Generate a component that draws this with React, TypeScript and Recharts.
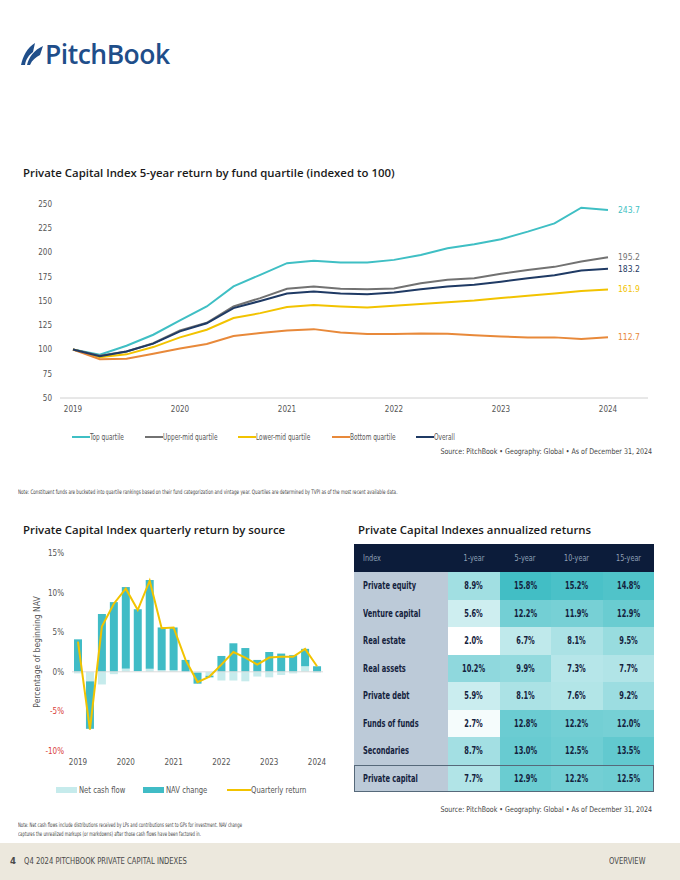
import React from 'react';
import { LineChart, Line, XAxis, YAxis, ComposedChart, Bar, ReferenceLine, LabelList } from 'recharts';

// quarter ends, Q4 2019 .. Q4 2024 (ticks show the Q4 of each year)
const quarters = [
  'Q4 2019', 'Q1 2020', 'Q2 2020', 'Q3 2020', 'Q4 2020', 'Q1 2021', 'Q2 2021', 'Q3 2021', 'Q4 2021',
  'Q1 2022', 'Q2 2022', 'Q3 2022', 'Q4 2022', 'Q1 2023', 'Q2 2023', 'Q3 2023', 'Q4 2023',
  'Q1 2024', 'Q2 2024', 'Q3 2024', 'Q4 2024',
];

// 5-year index by quartile (indexed to 100)
const topQuartile = [100, 94.7, 103.9, 115.2, 130, 144.4, 165, 177, 189, 191.4, 189.6, 189.6, 192.4, 197.5, 204.4, 208.5, 213.7, 221.5, 230, 246.2, 243.7];
const upperMidQuartile = [100, 93.5, 98, 106.5, 119.7, 127.5, 144.4, 153, 162.6, 165, 162.6, 162, 163, 168.4, 171.8, 173.5, 178, 182, 185.2, 190.7, 195.2];
const lowerMidQuartile = [100, 92, 95, 102.5, 112.5, 120.4, 132.4, 137.5, 143.7, 146, 144.4, 143.3, 145, 147, 148.8, 150.5, 153, 155.4, 157.8, 160.2, 161.9];
const bottomQuartile = [100, 90, 90.5, 95.6, 101, 105.6, 114, 117, 119.7, 121, 117.6, 115.9, 116, 116.6, 116.3, 114.6, 113.5, 112.5, 112.5, 110.8, 112.7];
const overall = [100, 93, 98, 106, 118.7, 127, 142.7, 150, 157.8, 159.8, 157.8, 157, 158.8, 162, 165, 166.7, 169.8, 173.5, 176.6, 181.4, 183.2];
const indexTicks = [50, 75, 100, 125, 150, 175, 200, 225, 250];

// quarterly return by source (% of beginning NAV)
const netCashFlow = [-0.2, -1.2, -1.6, -0.3, 0.4, 0.1, 0.4, 0.2, 0.2, 0.0, -0.1, -0.5, -1.1, -1.1, -1.2, -0.6, -0.7, -0.4, -0.2, 0.7, -0.1];
const navChange = [4.1, -6.0, 7.3, 8.8, 10.3, 7.8, 11.2, 5.4, 5.4, 1.5, -1.4, -0.2, 2.0, 3.6, 3.0, 1.5, 2.5, 2.3, 2.1, 2.2, 0.7];
const quarterlyReturn = [3.8, -7.3, 5.7, 8.6, 10.5, 7.8, 11.5, 5.5, 5.6, 1.5, -1.3, -0.6, 0.9, 2.5, 1.8, 0.9, 1.8, 1.9, 1.9, 2.9, 0.7];
const pctTicks = [-10, -5, 0, 5, 10, 15];

// annualized returns table
const indexNames = ['Private equity', 'Venture capital', 'Real estate', 'Real assets', 'Private debt', 'Funds of funds', 'Secondaries', 'Private capital'];
const horizons = ['1-year', '5-year', '10-year', '15-year'];
const oneYear = [8.9, 5.6, 2.0, 10.2, 5.9, 2.7, 8.7, 7.7];
const fiveYear = [15.8, 12.2, 6.7, 9.9, 8.1, 12.8, 13.0, 12.9];
const tenYear = [15.2, 11.9, 8.1, 7.3, 7.6, 12.2, 12.5, 12.2];
const fifteenYear = [14.8, 12.9, 9.5, 7.7, 9.2, 12.0, 13.5, 12.5];

const NARROW = '"Liberation Sans Narrow", "DejaVu Sans Condensed", Roboto, sans-serif';
const HEAD = '"Open Sans", "Noto Sans", sans-serif';
const NAVY = '#14223d';

const quartileSeries = [
  { key: 'top', name: 'Top quartile', values: topQuartile, color: '#3fbfc4' },
  { key: 'upperMid', name: 'Upper-mid quartile', values: upperMidQuartile, color: '#727272' },
  { key: 'lowerMid', name: 'Lower-mid quartile', values: lowerMidQuartile, color: '#f2c300' },
  { key: 'bottom', name: 'Bottom quartile', values: bottomQuartile, color: '#e8893a' },
  { key: 'overall', name: 'Overall', values: overall, color: '#1f3a64' },
];
const legendLeft = [72, 145, 238, 332, 416];

const indexData = quarters.map((q, i) => {
  const row: Record<string, any> = { quarter: q };
  quartileSeries.forEach(s => { row[s.key] = s.values[i]; });
  return row;
});

const sourceData = quarters.map((q, i) => ({
  quarter: q,
  cash: netCashFlow[i],
  nav: navChange[i],
  ret: quarterlyReturn[i],
}));

const tableCols = [oneYear, fiveYear, tenYear, fifteenYear];
const allVals = tableCols.flat();
const minV = Math.min(...allVals);
const maxV = Math.max(...allVals);

// white -> teal, linear on the value
function heat(v: number) {
  const t = (v - minV) / (maxV - minV);
  const mix = (a: number, b: number) => Math.round(a + (b - a) * t);
  return `rgb(${mix(255, 66)},${mix(255, 190)},${mix(255, 197)})`;
}

const yearOnly = (q: string) => q.slice(3);

// squeeze text horizontally, the report uses a condensed face
function Cond({ s, origin = 'left', children }: { s: number; origin?: string; children: React.ReactNode }) {
  return (
    <span style={{ display: 'inline-block', transform: `scaleX(${s})`, transformOrigin: `${origin} center`, whiteSpace: 'nowrap' }}>
      {children}
    </span>
  );
}

const endLabel = (color: string) => (props: any) => {
  const { x, y, value, index } = props;
  if (index !== quarters.length - 1) return null;
  return (
    <text x={x + 10} y={y + 3} fill={color} fontSize={8.5} fontFamily={NARROW}>
      {Number(value).toFixed(1)}
    </text>
  );
};

const PctTick = (props: any) => {
  const { x, y, payload } = props;
  return (
    <text x={x} y={y} dy={3} textAnchor="end" fontSize={8} fontFamily={NARROW} fill={payload.value < 0 ? '#d9413b' : '#555'}>
      {payload.value}%
    </text>
  );
};

function Logo() {
  return (
    <div style={{ position: 'absolute', left: 20, top: 36, display: 'flex', alignItems: 'center' }}>
      <svg width={24} height={26} viewBox="0 0 24 26">
        <path d="M1 24 C3 15 7 7 15 2 L13 11 C9 14 6 18 5 24 Z" fill="#1f4e8a" />
        <path d="M7 24 C9 16 14 9 23 5 L20 14 C16 16 12 19 10 24 Z" fill="#1f4e8a" />
      </svg>
      <span style={{ fontFamily: HEAD, fontWeight: 600, fontSize: 26.5, color: '#1f4e8a', letterSpacing: -0.5, marginLeft: 1 }}>
        PitchBook
      </span>
    </div>
  );
}

function QuartileChart() {
  return (
    <div style={{ position: 'absolute', left: 20, top: 195 }}>
      <LineChart width={640} height={240} data={indexData} margin={{ top: 9, right: 12, left: 0, bottom: 0 }}>
        <XAxis
          dataKey="quarter"
          interval={3}
          tickFormatter={yearOnly}
          axisLine={{ stroke: '#d0d0d0' }}
          tickLine={false}
          height={37}
          padding={{ left: 13, right: 40 }}
          tick={{ fontSize: 8, fill: '#555', fontFamily: NARROW }}
        />
        <YAxis
          domain={[50, 250]}
          ticks={indexTicks}
          width={40}
          axisLine={false}
          tickLine={false}
          tick={{ fontSize: 8, fill: '#555', fontFamily: NARROW }}
        />
        {quartileSeries.map(s => (
          <Line
            key={s.key}
            dataKey={s.key}
            name={s.name}
            stroke={s.color}
            strokeWidth={2}
            dot={false}
            type="linear"
            isAnimationActive={false}
          >
            <LabelList dataKey={s.key} content={endLabel(s.color)} />
          </Line>
        ))}
      </LineChart>
    </div>
  );
}

function QuartileLegend() {
  return (
    <div style={{ position: 'absolute', left: 0, top: 431, fontFamily: NARROW, fontSize: 9.5, color: '#555' }}>
      {quartileSeries.map((s, i) => (
        <div key={s.key} style={{ position: 'absolute', left: legendLeft[i], top: 0, display: 'flex', alignItems: 'center', whiteSpace: 'nowrap' }}>
          <span style={{ width: 18, height: 2, background: s.color, display: 'inline-block' }} />
          <Cond s={0.68}>{s.name}</Cond>
        </div>
      ))}
    </div>
  );
}

function SourceChart() {
  return (
    <div style={{ position: 'absolute', left: 20, top: 540 }}>
      <ComposedChart width={310} height={240} data={sourceData} stackOffset="sign" margin={{ top: 13, right: 7, left: 0, bottom: 0 }}>
        <XAxis
          dataKey="quarter"
          interval={3}
          tickFormatter={yearOnly}
          axisLine={false}
          tickLine={false}
          height={29}
          tick={{ fontSize: 8, fill: '#555', fontFamily: NARROW }}
        />
        <YAxis domain={[-10, 15]} ticks={pctTicks} width={52} axisLine={false} tickLine={false} tick={<PctTick />} />
        <ReferenceLine y={0} stroke="#dcdcdc" />
        <Bar dataKey="cash" name="Net cash flow" stackId="s" fill="#c6ebec" barSize={8} isAnimationActive={false} />
        <Bar dataKey="nav" name="NAV change" stackId="s" fill="#40bcc6" barSize={8} isAnimationActive={false} />
        <Line dataKey="ret" name="Quarterly return" stroke="#f2c300" strokeWidth={2} dot={false} type="linear" isAnimationActive={false} />
      </ComposedChart>
      <div style={{
        position: 'absolute', left: 17, top: 112, transform: 'translate(-50%, -50%) rotate(-90deg)',
        whiteSpace: 'nowrap', fontFamily: NARROW, fontSize: 8.5, color: '#555',
      }}>
        Percentage of beginning NAV
      </div>
      <div style={{ position: 'absolute', left: 36, top: 244, fontFamily: NARROW, fontSize: 9.5, color: '#555', whiteSpace: 'nowrap' }}>
        <div style={{ position: 'absolute', left: 0, display: 'flex', alignItems: 'center' }}>
          <span style={{ width: 21, height: 6, background: '#c6ebec', display: 'inline-block', marginRight: 2 }} />
          <Cond s={0.8}>Net cash flow</Cond>
        </div>
        <div style={{ position: 'absolute', left: 87, display: 'flex', alignItems: 'center' }}>
          <span style={{ width: 21, height: 6, background: '#40bcc6', display: 'inline-block', marginRight: 2 }} />
          <Cond s={0.8}>NAV change</Cond>
        </div>
        <div style={{ position: 'absolute', left: 171, display: 'flex', alignItems: 'center' }}>
          <span style={{ width: 24, height: 2, background: '#f2c300', display: 'inline-block' }} />
          <Cond s={0.8}>Quarterly return</Cond>
        </div>
      </div>
    </div>
  );
}

function ReturnsTable() {
  const rowH = 27.5;
  return (
    <div style={{ position: 'absolute', left: 354, top: 544, width: 300, fontFamily: NARROW }}>
      <div style={{ display: 'flex', height: 28, background: '#0c1c3a', color: '#8fa0b6', fontSize: 9, alignItems: 'center' }}>
        <div style={{ width: 94, paddingLeft: 9, boxSizing: 'border-box' }}><Cond s={0.8}>Index</Cond></div>
        {horizons.map(h => (
          <div key={h} style={{ width: 51.5, textAlign: 'center' }}><Cond s={0.8} origin="center">{h}</Cond></div>
        ))}
      </div>
      {indexNames.map((name, r) => {
        const last = r === indexNames.length - 1;
        return (
          <div key={name} style={{
            display: 'flex', height: rowH, boxSizing: 'border-box',
            outline: last ? '1.5px solid #56697a' : 'none', outlineOffset: -1, position: 'relative',
          }}>
            <div style={{
              width: 94, background: '#bccad8', paddingLeft: 9, boxSizing: 'border-box',
              display: 'flex', alignItems: 'center', fontWeight: 700, fontSize: 10, color: NAVY,
            }}><Cond s={0.74}>{name}</Cond></div>
            {tableCols.map((col, c) => (
              <div key={c} style={{
                width: 51.5, background: heat(col[r]), display: 'flex', alignItems: 'center', justifyContent: 'center',
                fontWeight: 700, fontSize: 10, color: NAVY,
              }}><Cond s={0.74} origin="center">{col[r].toFixed(1)}%</Cond></div>
            ))}
          </div>
        );
      })}
    </div>
  );
}

export default function App() {
  const small: React.CSSProperties = { position: 'absolute', fontFamily: NARROW, color: '#444', whiteSpace: 'nowrap' };
  const title: React.CSSProperties = { position: 'absolute', fontFamily: HEAD, fontWeight: 600, fontSize: 11.4, color: '#1a1a1a', whiteSpace: 'nowrap' };
  return (
    <div style={{ position: 'absolute', left: 0, top: 0, width: 680, height: 880, background: '#fff', overflow: 'hidden' }}>
      <Logo />
      <div style={{ ...title, left: 23, top: 165 }}>
        Private Capital Index 5-year return by fund quartile (indexed to 100)
      </div>
      <QuartileChart />
      <QuartileLegend />
      <div style={{ ...small, right: 28, top: 447, fontSize: 7.8 }}>
        <Cond s={0.9} origin="right">Source: PitchBook • Geography: Global • As of December 31, 2024</Cond>
      </div>
      <div style={{ ...small, left: 18, top: 488, fontSize: 6.2 }}>
        <Cond s={0.74}>
          Note: Constituent funds are bucketed into quartile rankings based on their fund categorization and vintage year. Quartiles are determined by TVPI as of the most recent available data.
        </Cond>
      </div>

      <div style={{ ...title, left: 23, top: 522 }}>
        Private Capital Index quarterly return by source
      </div>
      <SourceChart />

      <div style={{ ...title, left: 358, top: 522 }}>
        Private Capital Indexes annualized returns
      </div>
      <ReturnsTable />
      <div style={{ ...small, right: 28, top: 805, fontSize: 7.8 }}>
        <Cond s={0.9} origin="right">Source: PitchBook • Geography: Global • As of December 31, 2024</Cond>
      </div>
      <div style={{ ...small, left: 18, top: 820, fontSize: 6.2, lineHeight: '9px' }}>
        <Cond s={0.69}>
          Note: Net cash flows include distributions received by LPs and contributions sent to GPs for investment. NAV change<br />
          captures the unrealized markups (or markdowns) after those cash flows have been factored in.
        </Cond>
      </div>

      <div style={{
        position: 'absolute', left: 0, top: 843, width: 680, height: 37, background: '#ece8dd',
        fontFamily: NARROW, fontSize: 9.5, color: '#4a4a4a',
      }}>
        <span style={{ position: 'absolute', left: 10, top: 12, fontWeight: 700 }}>4</span>
        <span style={{ position: 'absolute', left: 24, top: 12 }}><Cond s={0.8}>Q4 2024 PITCHBOOK PRIVATE CAPITAL INDEXES</Cond></span>
        <span style={{ position: 'absolute', right: 35, top: 12 }}><Cond s={0.8} origin="right">OVERVIEW</Cond></span>
      </div>
    </div>
  );
}
